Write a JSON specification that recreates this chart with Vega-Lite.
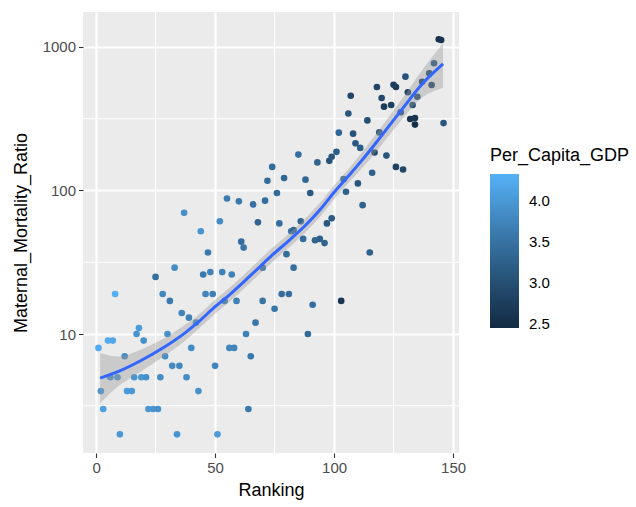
{
  "$schema": "https://vega.github.io/schema/vega-lite/v6.json",
  "autosize": {"type": "none"},
  "width": 376,
  "height": 441,
  "padding": {"left": 83, "top": 12, "right": 177, "bottom": 54},
  "background": "white",
  "datasets": {
    "pts": [
      {"Ranking":1,"Maternal_Mortality_Ratio":8,"Per_Capita_GDP":4.25},
      {"Ranking":2,"Maternal_Mortality_Ratio":4,"Per_Capita_GDP":4.0},
      {"Ranking":3,"Maternal_Mortality_Ratio":3,"Per_Capita_GDP":4.1},
      {"Ranking":5,"Maternal_Mortality_Ratio":9,"Per_Capita_GDP":4.25},
      {"Ranking":7,"Maternal_Mortality_Ratio":9,"Per_Capita_GDP":4.2},
      {"Ranking":6,"Maternal_Mortality_Ratio":5,"Per_Capita_GDP":3.9},
      {"Ranking":9,"Maternal_Mortality_Ratio":5,"Per_Capita_GDP":3.95},
      {"Ranking":8,"Maternal_Mortality_Ratio":19,"Per_Capita_GDP":4.3},
      {"Ranking":10,"Maternal_Mortality_Ratio":2,"Per_Capita_GDP":4.0},
      {"Ranking":12,"Maternal_Mortality_Ratio":7,"Per_Capita_GDP":3.85},
      {"Ranking":13,"Maternal_Mortality_Ratio":4,"Per_Capita_GDP":4.05},
      {"Ranking":15,"Maternal_Mortality_Ratio":4,"Per_Capita_GDP":4.0},
      {"Ranking":16,"Maternal_Mortality_Ratio":5,"Per_Capita_GDP":3.95},
      {"Ranking":19,"Maternal_Mortality_Ratio":5,"Per_Capita_GDP":4.0},
      {"Ranking":21,"Maternal_Mortality_Ratio":5,"Per_Capita_GDP":3.9},
      {"Ranking":17,"Maternal_Mortality_Ratio":10,"Per_Capita_GDP":3.95},
      {"Ranking":18,"Maternal_Mortality_Ratio":11,"Per_Capita_GDP":4.05},
      {"Ranking":20,"Maternal_Mortality_Ratio":9,"Per_Capita_GDP":3.9},
      {"Ranking":22,"Maternal_Mortality_Ratio":3,"Per_Capita_GDP":4.0},
      {"Ranking":24,"Maternal_Mortality_Ratio":3,"Per_Capita_GDP":3.95},
      {"Ranking":26,"Maternal_Mortality_Ratio":3,"Per_Capita_GDP":3.9},
      {"Ranking":25,"Maternal_Mortality_Ratio":25,"Per_Capita_GDP":3.45},
      {"Ranking":27,"Maternal_Mortality_Ratio":5,"Per_Capita_GDP":3.85},
      {"Ranking":28,"Maternal_Mortality_Ratio":19,"Per_Capita_GDP":3.8},
      {"Ranking":29,"Maternal_Mortality_Ratio":7,"Per_Capita_GDP":3.85},
      {"Ranking":30,"Maternal_Mortality_Ratio":10,"Per_Capita_GDP":3.9},
      {"Ranking":31,"Maternal_Mortality_Ratio":17,"Per_Capita_GDP":3.6},
      {"Ranking":32,"Maternal_Mortality_Ratio":6,"Per_Capita_GDP":3.85},
      {"Ranking":35,"Maternal_Mortality_Ratio":6,"Per_Capita_GDP":3.8},
      {"Ranking":33,"Maternal_Mortality_Ratio":29,"Per_Capita_GDP":3.85},
      {"Ranking":34,"Maternal_Mortality_Ratio":2,"Per_Capita_GDP":3.95},
      {"Ranking":36,"Maternal_Mortality_Ratio":14,"Per_Capita_GDP":3.75},
      {"Ranking":37,"Maternal_Mortality_Ratio":70,"Per_Capita_GDP":3.9},
      {"Ranking":38,"Maternal_Mortality_Ratio":5,"Per_Capita_GDP":3.85},
      {"Ranking":39,"Maternal_Mortality_Ratio":13,"Per_Capita_GDP":3.7},
      {"Ranking":40,"Maternal_Mortality_Ratio":8,"Per_Capita_GDP":3.85},
      {"Ranking":42,"Maternal_Mortality_Ratio":12,"Per_Capita_GDP":3.8},
      {"Ranking":43,"Maternal_Mortality_Ratio":4,"Per_Capita_GDP":3.9},
      {"Ranking":44,"Maternal_Mortality_Ratio":52,"Per_Capita_GDP":3.95},
      {"Ranking":45,"Maternal_Mortality_Ratio":26,"Per_Capita_GDP":3.6},
      {"Ranking":48,"Maternal_Mortality_Ratio":27,"Per_Capita_GDP":3.75},
      {"Ranking":46,"Maternal_Mortality_Ratio":19,"Per_Capita_GDP":3.75},
      {"Ranking":49,"Maternal_Mortality_Ratio":19,"Per_Capita_GDP":3.7},
      {"Ranking":47,"Maternal_Mortality_Ratio":37,"Per_Capita_GDP":3.6},
      {"Ranking":50,"Maternal_Mortality_Ratio":6,"Per_Capita_GDP":3.75},
      {"Ranking":51,"Maternal_Mortality_Ratio":2,"Per_Capita_GDP":4.05},
      {"Ranking":52,"Maternal_Mortality_Ratio":61,"Per_Capita_GDP":3.85},
      {"Ranking":53,"Maternal_Mortality_Ratio":27,"Per_Capita_GDP":3.7},
      {"Ranking":54,"Maternal_Mortality_Ratio":17,"Per_Capita_GDP":3.65},
      {"Ranking":55,"Maternal_Mortality_Ratio":88,"Per_Capita_GDP":3.65},
      {"Ranking":56,"Maternal_Mortality_Ratio":8,"Per_Capita_GDP":3.8},
      {"Ranking":58,"Maternal_Mortality_Ratio":8,"Per_Capita_GDP":3.75},
      {"Ranking":57,"Maternal_Mortality_Ratio":26,"Per_Capita_GDP":3.7},
      {"Ranking":59,"Maternal_Mortality_Ratio":17,"Per_Capita_GDP":3.7},
      {"Ranking":60,"Maternal_Mortality_Ratio":84,"Per_Capita_GDP":3.6},
      {"Ranking":61,"Maternal_Mortality_Ratio":44,"Per_Capita_GDP":3.45},
      {"Ranking":62,"Maternal_Mortality_Ratio":40,"Per_Capita_GDP":3.55},
      {"Ranking":63,"Maternal_Mortality_Ratio":10,"Per_Capita_GDP":3.7},
      {"Ranking":64,"Maternal_Mortality_Ratio":3,"Per_Capita_GDP":3.6},
      {"Ranking":65,"Maternal_Mortality_Ratio":7,"Per_Capita_GDP":3.6},
      {"Ranking":66,"Maternal_Mortality_Ratio":80,"Per_Capita_GDP":3.5},
      {"Ranking":67,"Maternal_Mortality_Ratio":12,"Per_Capita_GDP":3.55},
      {"Ranking":68,"Maternal_Mortality_Ratio":60,"Per_Capita_GDP":3.3},
      {"Ranking":70,"Maternal_Mortality_Ratio":29,"Per_Capita_GDP":3.5},
      {"Ranking":70,"Maternal_Mortality_Ratio":17,"Per_Capita_GDP":3.55},
      {"Ranking":71,"Maternal_Mortality_Ratio":85,"Per_Capita_GDP":3.45},
      {"Ranking":72,"Maternal_Mortality_Ratio":117,"Per_Capita_GDP":3.4},
      {"Ranking":74,"Maternal_Mortality_Ratio":146,"Per_Capita_GDP":3.4},
      {"Ranking":75,"Maternal_Mortality_Ratio":15,"Per_Capita_GDP":3.55},
      {"Ranking":76,"Maternal_Mortality_Ratio":96,"Per_Capita_GDP":3.4},
      {"Ranking":77,"Maternal_Mortality_Ratio":59,"Per_Capita_GDP":3.45},
      {"Ranking":78,"Maternal_Mortality_Ratio":19,"Per_Capita_GDP":3.45},
      {"Ranking":81,"Maternal_Mortality_Ratio":19,"Per_Capita_GDP":3.45},
      {"Ranking":79,"Maternal_Mortality_Ratio":122,"Per_Capita_GDP":3.35},
      {"Ranking":80,"Maternal_Mortality_Ratio":36,"Per_Capita_GDP":3.4},
      {"Ranking":82,"Maternal_Mortality_Ratio":52,"Per_Capita_GDP":3.5},
      {"Ranking":83,"Maternal_Mortality_Ratio":29,"Per_Capita_GDP":3.45},
      {"Ranking":83,"Maternal_Mortality_Ratio":53,"Per_Capita_GDP":3.3},
      {"Ranking":85,"Maternal_Mortality_Ratio":178,"Per_Capita_GDP":3.45},
      {"Ranking":86,"Maternal_Mortality_Ratio":61,"Per_Capita_GDP":3.3},
      {"Ranking":87,"Maternal_Mortality_Ratio":46,"Per_Capita_GDP":3.4},
      {"Ranking":88,"Maternal_Mortality_Ratio":119,"Per_Capita_GDP":3.35},
      {"Ranking":89,"Maternal_Mortality_Ratio":10,"Per_Capita_GDP":3.4},
      {"Ranking":90,"Maternal_Mortality_Ratio":96,"Per_Capita_GDP":3.15},
      {"Ranking":91,"Maternal_Mortality_Ratio":16,"Per_Capita_GDP":3.45},
      {"Ranking":92,"Maternal_Mortality_Ratio":45,"Per_Capita_GDP":3.3},
      {"Ranking":94,"Maternal_Mortality_Ratio":46,"Per_Capita_GDP":3.25},
      {"Ranking":96,"Maternal_Mortality_Ratio":43,"Per_Capita_GDP":3.3},
      {"Ranking":93,"Maternal_Mortality_Ratio":157,"Per_Capita_GDP":3.3},
      {"Ranking":97,"Maternal_Mortality_Ratio":59,"Per_Capita_GDP":3.1},
      {"Ranking":99,"Maternal_Mortality_Ratio":64,"Per_Capita_GDP":3.2},
      {"Ranking":98,"Maternal_Mortality_Ratio":161,"Per_Capita_GDP":3.05},
      {"Ranking":99,"Maternal_Mortality_Ratio":172,"Per_Capita_GDP":3.1},
      {"Ranking":101,"Maternal_Mortality_Ratio":186,"Per_Capita_GDP":3.2},
      {"Ranking":102,"Maternal_Mortality_Ratio":253,"Per_Capita_GDP":3.35},
      {"Ranking":103,"Maternal_Mortality_Ratio":17,"Per_Capita_GDP":2.6},
      {"Ranking":104,"Maternal_Mortality_Ratio":120,"Per_Capita_GDP":3.3},
      {"Ranking":105,"Maternal_Mortality_Ratio":98,"Per_Capita_GDP":3.25},
      {"Ranking":106,"Maternal_Mortality_Ratio":344,"Per_Capita_GDP":3.1},
      {"Ranking":107,"Maternal_Mortality_Ratio":457,"Per_Capita_GDP":2.85},
      {"Ranking":108,"Maternal_Mortality_Ratio":249,"Per_Capita_GDP":3.05},
      {"Ranking":109,"Maternal_Mortality_Ratio":213,"Per_Capita_GDP":3.15},
      {"Ranking":111,"Maternal_Mortality_Ratio":198,"Per_Capita_GDP":3.2},
      {"Ranking":110,"Maternal_Mortality_Ratio":112,"Per_Capita_GDP":3.1},
      {"Ranking":112,"Maternal_Mortality_Ratio":79,"Per_Capita_GDP":3.3},
      {"Ranking":114,"Maternal_Mortality_Ratio":308,"Per_Capita_GDP":3.0},
      {"Ranking":115,"Maternal_Mortality_Ratio":37,"Per_Capita_GDP":3.25},
      {"Ranking":116,"Maternal_Mortality_Ratio":133,"Per_Capita_GDP":3.25},
      {"Ranking":117,"Maternal_Mortality_Ratio":184,"Per_Capita_GDP":2.9},
      {"Ranking":118,"Maternal_Mortality_Ratio":526,"Per_Capita_GDP":2.85},
      {"Ranking":119,"Maternal_Mortality_Ratio":254,"Per_Capita_GDP":3.1},
      {"Ranking":120,"Maternal_Mortality_Ratio":441,"Per_Capita_GDP":2.9},
      {"Ranking":121,"Maternal_Mortality_Ratio":384,"Per_Capita_GDP":2.7},
      {"Ranking":124,"Maternal_Mortality_Ratio":394,"Per_Capita_GDP":2.75},
      {"Ranking":122,"Maternal_Mortality_Ratio":175,"Per_Capita_GDP":3.1},
      {"Ranking":125,"Maternal_Mortality_Ratio":546,"Per_Capita_GDP":2.75},
      {"Ranking":126,"Maternal_Mortality_Ratio":526,"Per_Capita_GDP":2.7},
      {"Ranking":126,"Maternal_Mortality_Ratio":146,"Per_Capita_GDP":2.8},
      {"Ranking":129,"Maternal_Mortality_Ratio":140,"Per_Capita_GDP":2.85},
      {"Ranking":128,"Maternal_Mortality_Ratio":351,"Per_Capita_GDP":3.0},
      {"Ranking":130,"Maternal_Mortality_Ratio":621,"Per_Capita_GDP":3.05},
      {"Ranking":131,"Maternal_Mortality_Ratio":484,"Per_Capita_GDP":2.8},
      {"Ranking":132,"Maternal_Mortality_Ratio":315,"Per_Capita_GDP":2.55},
      {"Ranking":133,"Maternal_Mortality_Ratio":394,"Per_Capita_GDP":2.95},
      {"Ranking":135,"Maternal_Mortality_Ratio":450,"Per_Capita_GDP":3.0},
      {"Ranking":134,"Maternal_Mortality_Ratio":320,"Per_Capita_GDP":2.6},
      {"Ranking":134,"Maternal_Mortality_Ratio":288,"Per_Capita_GDP":2.5},
      {"Ranking":137,"Maternal_Mortality_Ratio":573,"Per_Capita_GDP":2.8},
      {"Ranking":141,"Maternal_Mortality_Ratio":543,"Per_Capita_GDP":2.85},
      {"Ranking":140,"Maternal_Mortality_Ratio":656,"Per_Capita_GDP":2.9},
      {"Ranking":142,"Maternal_Mortality_Ratio":770,"Per_Capita_GDP":3.05},
      {"Ranking":144,"Maternal_Mortality_Ratio":1133,"Per_Capita_GDP":2.5},
      {"Ranking":145,"Maternal_Mortality_Ratio":1119,"Per_Capita_GDP":2.6},
      {"Ranking":146,"Maternal_Mortality_Ratio":295,"Per_Capita_GDP":3.1}
    ],
    "smooth": [
      {"Ranking":1.7,"fit":4.93,"lo":3.30,"hi":7.37},
      {"Ranking":9.2,"fit":5.47,"lo":4.30,"hi":6.96},
      {"Ranking":18.5,"fit":6.49,"lo":5.44,"hi":7.74},
      {"Ranking":28.2,"fit":8.02,"lo":6.94,"hi":9.26},
      {"Ranking":37.4,"fit":10.19,"lo":8.96,"hi":11.59},
      {"Ranking":42.4,"fit":11.89,"lo":10.63,"hi":13.31},
      {"Ranking":50,"fit":15.49,"lo":13.84,"hi":17.33},
      {"Ranking":56.3,"fit":18.92,"lo":16.91,"hi":21.17},
      {"Ranking":64.7,"fit":25.41,"lo":22.71,"hi":28.43},
      {"Ranking":73.9,"fit":35.32,"lo":31.56,"hi":39.52},
      {"Ranking":81.5,"fit":45.5,"lo":40.66,"hi":50.91},
      {"Ranking":87.8,"fit":56.75,"lo":50.71,"hi":63.5},
      {"Ranking":94.1,"fit":73.45,"lo":65.64,"hi":82.19},
      {"Ranking":100.4,"fit":98.86,"lo":88.35,"hi":110.6},
      {"Ranking":106.7,"fit":129.7,"lo":115.9,"hi":145.1},
      {"Ranking":112.2,"fit":166.0,"lo":146.0,"hi":188.7},
      {"Ranking":118.1,"fit":219.8,"lo":190.3,"hi":253.9},
      {"Ranking":127.7,"fit":353.2,"lo":300.9,"hi":414.7},
      {"Ranking":137.4,"fit":561.0,"lo":448.1,"hi":702.4},
      {"Ranking":145.8,"fit":762.1,"lo":520.0,"hi":1060.0}
    ],
    "minorx": [{"Ranking":25},{"Ranking":75},{"Ranking":125}],
    "minory": [{"Maternal_Mortality_Ratio":3.162},{"Maternal_Mortality_Ratio":31.62},{"Maternal_Mortality_Ratio":316.2}]
  },
  "layer": [
    {
      "data": {"name": "minorx"},
      "mark": {"type": "rule", "color": "white", "strokeWidth": 1.1},
      "encoding": {
        "x": {"field": "Ranking", "type": "quantitative", "title": "Ranking",
              "scale": {"domain": [-5.5, 152.5], "nice": false, "zero": false},
              "axis": {"values": [0, 50, 100, 150], "title": "Ranking"}}
      }
    },
    {
      "data": {"name": "minory"},
      "mark": {"type": "rule", "color": "white", "strokeWidth": 1.1},
      "encoding": {
        "y": {"field": "Maternal_Mortality_Ratio", "type": "quantitative", "title": "Maternal_Mortality_Ratio",
              "scale": {"type": "log", "domain": [1.482, 1753], "nice": false},
              "axis": {"values": [10, 100, 1000], "format": "d", "title": "Maternal_Mortality_Ratio"}}
      }
    },
    {
      "data": {"name": "pts"},
      "mark": {"type": "circle", "size": 44, "opacity": 1},
      "encoding": {
        "x": {"field": "Ranking", "type": "quantitative", "title": "Ranking",
              "scale": {"domain": [-5.5, 152.5], "nice": false, "zero": false},
              "axis": {"values": [0, 50, 100, 150], "title": "Ranking"}},
        "y": {"field": "Maternal_Mortality_Ratio", "type": "quantitative", "title": "Maternal_Mortality_Ratio",
              "scale": {"type": "log", "domain": [1.482, 1753], "nice": false},
              "axis": {"values": [10, 100, 1000], "format": "d", "title": "Maternal_Mortality_Ratio"}},
        "color": {"field": "Per_Capita_GDP", "type": "quantitative",
                  "scale": {"domain": [2.45, 4.33], "range": ["#132B43", "#56B1F7"], "interpolate": "lab"},
                  "legend": {"title": "Per_Capita_GDP", "orient": "none", "legendX": 407, "legendY": 135,
                             "direction": "vertical", "gradientLength": 154, "gradientThickness": 29,
                             "values": [2.5, 3, 3.5, 4], "format": ".1f", "labelOffset": 10, "titlePadding": 9,
                             "labelOverlap": false, "gradientStrokeWidth": 0}}
      }
    },
    {
      "data": {"name": "smooth"},
      "mark": {"type": "area", "color": "#999999", "opacity": 0.4, "interpolate": "monotone"},
      "encoding": {
        "x": {"field": "Ranking", "type": "quantitative", "title": "Ranking"},
        "y": {"field": "lo", "type": "quantitative", "title": "Maternal_Mortality_Ratio"},
        "y2": {"field": "hi"}
      }
    },
    {
      "data": {"name": "smooth"},
      "mark": {"type": "line", "color": "#3366FF", "strokeWidth": 3, "interpolate": "monotone"},
      "encoding": {
        "x": {"field": "Ranking", "type": "quantitative", "title": "Ranking"},
        "y": {"field": "fit", "type": "quantitative", "title": "Maternal_Mortality_Ratio"}
      }
    }
  ],
  "config": {
    "view": {"fill": "#EBEBEB", "stroke": null},
    "axis": {
      "domain": false, "grid": true, "gridColor": "white", "gridWidth": 2.2,
      "tickColor": "#333333", "tickSize": 4.5, "tickWidth": 1.1,
      "labelColor": "#4D4D4D", "labelFont": "Liberation Sans", "labelFontSize": 15, "labelPadding": 3,
      "titleFont": "Liberation Sans", "titleFontSize": 18, "titleFontWeight": "normal", "titleColor": "black"
    },
    "axisX": {"titlePadding": 6},
    "axisY": {"titlePadding": 12},
    "legend": {
      "titleFont": "Liberation Sans", "titleFontSize": 18, "titleFontWeight": "normal", "titleColor": "black",
      "labelFont": "Liberation Sans", "labelFontSize": 15, "labelColor": "black"
    }
  }
}
